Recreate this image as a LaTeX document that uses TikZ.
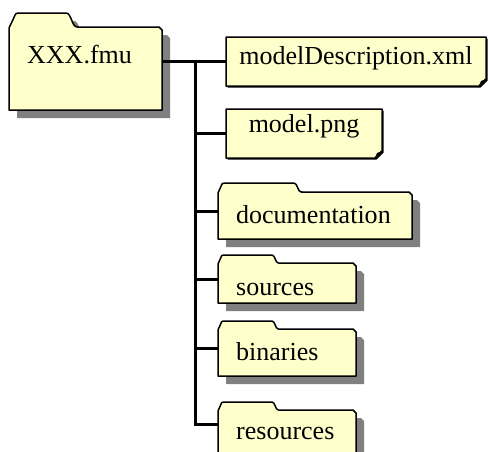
\documentclass[tikz,border=0pt]{standalone}
\usepackage{fontspec}
\setmainfont{Liberation Serif}
\usetikzlibrary{fit}
\definecolor{fy}{RGB}{255,255,204}
\definecolor{shadowc}{RGB}{128,128,128}
\newcommand{\lab}{\fontsize{26}{30}\selectfont}
\tikzset{
  outl/.style={draw=black, line width=1.5pt, line join=round},
  conn/.style={draw=black, line width=3pt},
}
% folder: #1 name, #2 l, #3 tab top, #4 body top, #5 r, #6 b, #7 tab end, #8 text, #9 baseline
\newcommand{\fmfold}[9]{%
  \pgfmathsetmacro\fh{#4-#3}%
  \pgfmathsetmacro\fbw{0.8*\fh}%
  \pgfmathsetmacro\fcw{0.8*\fh}%
  \def\fpath{(#2,#4+1) -- (#2+0.4*\fbw,#3+0.4*\fh) .. controls (#2+0.6*\fbw,#3) .. (#2+\fbw,#3) -- (#7,#3) .. controls (#7+0.5*\fcw,#3) and (#7+0.5*\fcw,#4) .. (#7+\fcw,#4) -- (#5-3,#4) -- (#5,#4+3) -- (#5,#6) -- (#2,#6) -- cycle}%
  \fill[shadowc, shift={(8,8)}] \fpath;%
  \path[outl, fill=fy] \fpath;%
  \path (#2,#3) coordinate (#1-nw) (#5,#6) coordinate (#1-se);%
  \node[fit=(#1-nw)(#1-se), inner sep=0pt] (#1) {};%
  \node[anchor=base west, inner sep=0pt, font=\lab] (#1-label) at (#2+18,#9) {#8};%
}
% document: #1 name, #2 l, #3 t, #4 r, #5 b, #6 text, #7 baseline
\newcommand{\fmdoc}[7]{%
  \def\dpath{(#2,#3) -- (#4,#3) -- (#4,#5-7) -- (#4-7,#5) -- (#2,#5) -- cycle}%
  \fill[black, shift={(1.5,1.5)}] \dpath;%
  \path[outl, fill=fy] \dpath;%
  \fill[black] (#4,#5-7) -- (#4-7,#5) -- (#4-5,#5-5) -- cycle;%
  \path (#2,#3) coordinate (#1-nw) (#4,#5) coordinate (#1-se);%
  \node[fit=(#1-nw)(#1-se), inner sep=0pt] (#1) {};%
  \node[anchor=base, inner sep=0pt, font=\lab] (#1-label) at (#1.center |- 0,#7) {#6};%
}
\begin{document}
\begin{tikzpicture}[x=1pt, y=-1pt]
\useasboundingbox (0,0) rectangle (489,451);
\clip (0,0) rectangle (489,451);
\fmfold{fmu}{9}{13}{27}{162}{110}{66}{XXX.fmu}{63}
\fmdoc{md}{226}{37}{486}{86}{modelDescription.xml}{64}
\fmdoc{png}{226}{109}{382}{158}{model.png}{132}
\fmfold{doc}{218}{183}{192}{412}{239}{294}{documentation}{223}
\fmfold{src}{218}{255}{263}{356}{303}{272}{sources}{295}
\fmfold{bin}{218}{321}{329}{356}{376}{272}{binaries}{360}
\fmfold{res}{218}{402}{410}{356}{456}{272}{resources}{439}
\coordinate (trunk) at (195,0);
\coordinate (resc) at ([yshift=5pt]res.west);
\draw[conn] (fmu.east) -- (md.west);
\draw[conn] ([yshift=1.5pt]trunk |- fmu.east) -- ([yshift=-1.5pt]trunk |- resc);
\draw[conn] (trunk |- png.west) -- (png.west);
\draw[conn] (trunk |- doc.west) -- (doc.west);
\draw[conn] (trunk |- src.west) -- (src.west);
\draw[conn] (trunk |- bin.west) -- (bin.west);
\draw[conn] (trunk |- resc) -- (resc);
\end{tikzpicture}
\end{document}
